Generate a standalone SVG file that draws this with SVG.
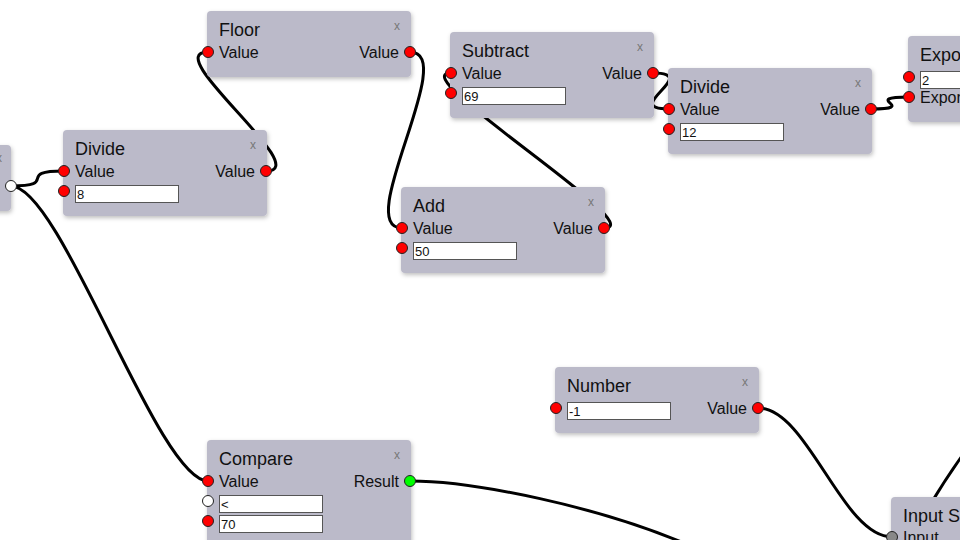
<svg xmlns="http://www.w3.org/2000/svg" width="960" height="540" viewBox="0 0 960 540">
<defs>
<filter id="sh" x="-10%" y="-10%" width="120%" height="130%">
<feDropShadow dx="1" dy="2" stdDeviation="2" flood-color="#000" flood-opacity="0.25"/>
</filter>
</defs>
<style>
.n{fill:#bbbac9;filter:url(#sh)}
.t{font-family:"Liberation Sans",Arial,sans-serif;font-size:18px;fill:#111}
.l{font-family:"Liberation Sans",Arial,sans-serif;font-size:16px;fill:#111}
.r{text-anchor:end}
.x{font-family:"Liberation Sans",Arial,sans-serif;font-size:12px;fill:#777}
.b{fill:#fff;stroke:#555;stroke-width:1}
.v{font-family:"Liberation Sans",Arial,sans-serif;font-size:13px;fill:#111}
.p{fill:#f00;stroke:#222;stroke-width:1}
.pw{fill:#fff;stroke:#222;stroke-width:1}
.pg{fill:#0f0;stroke:#222;stroke-width:1}
.pe{fill:#888;stroke:#222;stroke-width:1}
.c{fill:none;stroke:#000;stroke-width:3}
</style>
<g id="connectors">
<path class="c" d="M11,186 C61,186 14,171 64,171"/>
<path class="c" d="M11,186 C61,186 158,481 208,481"/>
<path class="c" d="M266,171 C316,171 158,52 208,52"/>
<path class="c" d="M410,52 C460,52 352,228 402,228"/>
<path class="c" d="M604,228 C654,228 401,73 451,73"/>
<path class="c" d="M653,73 C703,73 619,109 669,109"/>
<path class="c" d="M871,109 C921,109 859,97 909,97"/>
<path class="c" d="M758,408 C808,408 842,537 892,537"/>
<path class="c" d="M410,481 C470,481 600,505 700,550"/>
<path class="c" d="M930,505 C945,480 955,465 970,445"/>
</g>
<g id="node-left">
<rect class="n" x="-60" y="145" width="71" height="66" rx="4"/>
<text class="x" x="-4" y="162">x</text>
<circle class="pw" cx="11" cy="186" r="5.5"/>
</g>
<g id="node-divide1">
<rect class="n" x="63" y="130" width="204" height="86" rx="4"/>
<text class="t" x="75" y="155">Divide</text>
<text class="x" x="250" y="149">x</text>
<text class="l" x="75" y="177">Value</text>
<text class="l r" x="255" y="177">Value</text>
<rect class="b" x="75.5" y="185.5" width="103" height="17"/>
<text class="v" x="77" y="199">8</text>
<circle class="p" cx="64" cy="171" r="5.5"/>
<circle class="p" cx="64" cy="191" r="5.5"/>
<circle class="p" cx="266" cy="171" r="5.5"/>
</g>
<g id="node-floor">
<rect class="n" x="207" y="11" width="204" height="66" rx="4"/>
<text class="t" x="219" y="36">Floor</text>
<text class="x" x="394" y="30">x</text>
<text class="l" x="219" y="58">Value</text>
<text class="l r" x="399" y="58">Value</text>
<circle class="p" cx="208" cy="52" r="5.5"/>
<circle class="p" cx="410" cy="52" r="5.5"/>
</g>
<g id="node-subtract">
<rect class="n" x="450" y="32" width="204" height="86" rx="4"/>
<text class="t" x="462" y="57">Subtract</text>
<text class="x" x="637" y="51">x</text>
<text class="l" x="462" y="79">Value</text>
<text class="l r" x="642" y="79">Value</text>
<rect class="b" x="462.5" y="87.5" width="103" height="17"/>
<text class="v" x="464" y="101">69</text>
<circle class="p" cx="451" cy="73" r="5.5"/>
<circle class="p" cx="451" cy="93" r="5.5"/>
<circle class="p" cx="653" cy="73" r="5.5"/>
</g>
<g id="node-divide2">
<rect class="n" x="668" y="68" width="204" height="86" rx="4"/>
<text class="t" x="680" y="93">Divide</text>
<text class="x" x="855" y="87">x</text>
<text class="l" x="680" y="115">Value</text>
<text class="l r" x="860" y="115">Value</text>
<rect class="b" x="680.5" y="123.5" width="103" height="17"/>
<text class="v" x="682" y="137">12</text>
<circle class="p" cx="669" cy="109" r="5.5"/>
<circle class="p" cx="669" cy="129" r="5.5"/>
<circle class="p" cx="871" cy="109" r="5.5"/>
</g>
<g id="node-expo">
<rect class="n" x="908" y="36" width="204" height="86" rx="4"/>
<text class="t" x="920" y="61">Expo</text>
<rect class="b" x="920.5" y="71.5" width="103" height="17"/>
<text class="v" x="922" y="85">2</text>
<text class="l" x="920" y="103">Expon</text>
<circle class="p" cx="909" cy="77" r="5.5"/>
<circle class="p" cx="909" cy="97" r="5.5"/>
</g>
<g id="node-add">
<rect class="n" x="401" y="187" width="204" height="86" rx="4"/>
<text class="t" x="413" y="212">Add</text>
<text class="x" x="588" y="206">x</text>
<text class="l" x="413" y="234">Value</text>
<text class="l r" x="593" y="234">Value</text>
<rect class="b" x="413.5" y="242.5" width="103" height="17"/>
<text class="v" x="415" y="256">50</text>
<circle class="p" cx="402" cy="228" r="5.5"/>
<circle class="p" cx="402" cy="248" r="5.5"/>
<circle class="p" cx="604" cy="228" r="5.5"/>
</g>
<g id="node-number">
<rect class="n" x="555" y="367" width="204" height="66" rx="4"/>
<text class="t" x="567" y="392">Number</text>
<text class="x" x="742" y="386">x</text>
<rect class="b" x="567.5" y="402.5" width="103" height="17"/>
<text class="v" x="569" y="416">-1</text>
<text class="l r" x="747" y="414">Value</text>
<circle class="p" cx="556" cy="408" r="5.5"/>
<circle class="p" cx="758" cy="408" r="5.5"/>
</g>
<g id="node-compare">
<rect class="n" x="207" y="440" width="204" height="120" rx="4"/>
<text class="t" x="219" y="465">Compare</text>
<text class="x" x="394" y="459">x</text>
<text class="l" x="219" y="487">Value</text>
<text class="l r" x="399" y="487">Result</text>
<rect class="b" x="219.5" y="495.5" width="103" height="17"/>
<text class="v" x="221" y="509">&lt;</text>
<rect class="b" x="219.5" y="515.5" width="103" height="17"/>
<text class="v" x="221" y="529">70</text>
<circle class="p" cx="208" cy="481" r="5.5"/>
<circle class="pw" cx="208" cy="501" r="5.5"/>
<circle class="p" cx="208" cy="521" r="5.5"/>
<circle class="pg" cx="410" cy="481" r="5.5"/>
</g>
<g id="node-input">
<rect class="n" x="891" y="497" width="204" height="86" rx="4"/>
<text class="t" x="903" y="522">Input S</text>
<text class="l" x="903" y="543">Input</text>
<circle class="pe" cx="892" cy="537" r="5.5"/>
</g>
</svg>
